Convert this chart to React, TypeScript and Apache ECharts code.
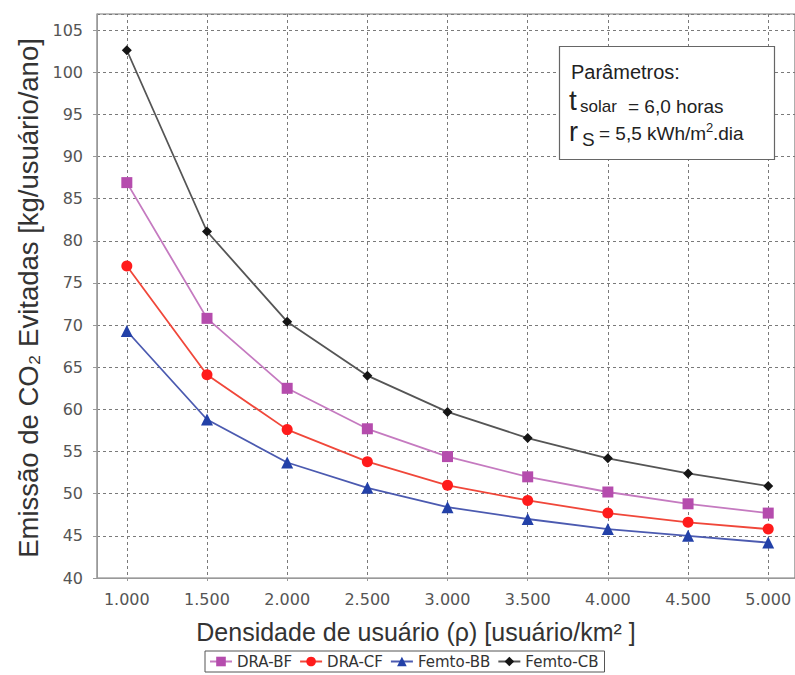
import React, { useEffect, useRef } from "react";
import * as echarts from "echarts";

// User density (users/km²)
const densities = [1000, 1500, 2000, 2500, 3000, 3500, 4000, 4500, 5000];

// Avoided CO2 emission (kg/user/year) per architecture
const draBF = [86.9, 70.8, 62.5, 57.7, 54.4, 52.0, 50.2, 48.8, 47.7];
const draCF = [77.0, 64.1, 57.6, 53.8, 51.0, 49.2, 47.7, 46.6, 45.8];
const femtoBB = [69.3, 58.8, 53.7, 50.7, 48.4, 47.0, 45.8, 45.0, 44.2];
const femtoCB = [102.6, 81.1, 70.4, 64.0, 59.7, 56.6, 54.2, 52.4, 50.9];

const seriesNames = ["DRA-BF", "DRA-CF", "Femto-BB", "Femto-CB"];
const xTicks = [1000, 1500, 2000, 2500, 3000, 3500, 4000, 4500, 5000];

const xTitle = "Densidade de usuário (ρ) [usuário/km² ]";
const yTitle = "Emissão de CO₂ Evitadas [kg/usuário/ano]";

const fmtThousands = (v: number) => {
  const k = Math.floor(v / 1000);
  const r = String(v % 1000).padStart(3, "0");
  return `${k}.${r}`;
};

const pairs = (vals: number[]) => densities.map((d, i) => [d, vals[i]]);

export default function App() {
  const ref = useRef<HTMLDivElement>(null);

  useEffect(() => {
    document.body.style.margin = "0";
    if (!ref.current) return;
    const chart = echarts.init(ref.current, null, { renderer: "svg" });

    const tickFont = "DejaVu Sans";
    const titleFont = "Liberation Sans";
    const ink = "#222";

    const mkSeries = (
      name: string,
      data: number[],
      lineColor: string,
      markColor: string,
      symbol: string,
      size: number
    ) => ({
      name,
      type: "line",
      data: pairs(data),
      symbol,
      symbolSize: size,
      lineStyle: { color: lineColor, width: 1.8 },
      itemStyle: { color: markColor },
      emphasis: { disabled: true },
    });

    const txt = (text: string, x: number, y: number, size: number, lineHeight?: number) => ({
      type: "text",
      x,
      y,
      z: 10,
      style: {
        text,
        fontFamily: titleFont,
        fontSize: size,
        lineHeight: lineHeight ?? size,
        fill: ink,
        verticalAlign: "middle",
        align: "left",
      },
    });

    const gridLine = { show: true, lineStyle: { color: "#7a7a7a", type: [3, 3], width: 1 } };

    chart.setOption({
      animation: false,
      backgroundColor: "#ffffff",
      grid: { left: 97, right: -6, top: 14, bottom: 97, show: true, borderColor: "#7a7a7a", borderWidth: 1.2 },
      legend: {
        data: seriesNames,
        left: 205,
        top: 651,
        itemWidth: 22,
        itemHeight: 12,
        itemGap: 7,
        padding: [3, 6, 3, 4],
        borderColor: "#555",
        borderWidth: 1,
        textStyle: { fontFamily: tickFont, fontSize: 15, color: "#333" },
      },
      xAxis: {
        type: "value",
        min: 814,
        max: 5167,
        axisLine: { show: true, lineStyle: { color: "#999" } },
        axisTick: { show: true, customValues: xTicks, length: 3, lineStyle: { color: "#999" } },
        axisLabel: {
          customValues: xTicks,
          formatter: (v: number) => fmtThousands(v),
          fontFamily: tickFont,
          fontSize: 16,
          color: "#555",
          margin: 13,
        },
        splitLine: gridLine,
      },
      yAxis: {
        type: "value",
        min: 40,
        max: 106.9,
        interval: 5,
        axisLine: { show: true, lineStyle: { color: "#999" } },
        axisTick: { show: true, length: 4, lineStyle: { color: "#999" } },
        axisLabel: {
          fontFamily: tickFont,
          fontSize: 16,
          color: "#555",
          margin: 14,
          showMaxLabel: false,
          formatter: (v: number) => (Number.isInteger(v) && v % 5 === 0 ? String(v) : ""),
        },
        splitLine: gridLine,
      },
      series: [
        mkSeries(seriesNames[3], femtoCB, "#555555", "#151515", "diamond", 10),
        mkSeries(seriesNames[0], draBF, "#c57ac0", "#b54cad", "rect", 11),
        mkSeries(seriesNames[1], draCF, "#f0473a", "#ff1b1b", "circle", 11),
        mkSeries(seriesNames[2], femtoBB, "#4b5ab0", "#2341a8", "triangle", 12),
      ],
      graphic: [
        // axis titles
        {
          type: "text",
          x: 416,
          y: 632,
          style: {
            text: xTitle,
            fontFamily: titleFont,
            fontSize: 25,
            fill: "#333",
            align: "center",
            verticalAlign: "middle",
          },
        },
        {
          type: "text",
          x: 28,
          y: 298,
          rotation: Math.PI / 2,
          style: {
            text: yTitle,
            fontFamily: titleFont,
            fontSize: 27.5,
            fill: "#333",
            align: "center",
            verticalAlign: "middle",
          },
        },
        // parameters box
        {
          type: "rect",
          z: 9,
          shape: { x: 559.5, y: 46.5, width: 215, height: 113 },
          style: { fill: "#ffffff", stroke: "#666", lineWidth: 1.2 },
        },
        txt("Parâmetros:", 571, 72, 20),
        txt("t", 569, 100.5, 28, 22),
        txt("solar", 580, 106, 17),
        txt("= 6,0 horas", 628, 106.5, 19),
        txt("r", 569, 131.5, 27, 22),
        txt("S", 582, 139.5, 19),
        txt("= 5,5 kWh/m", 599, 133.5, 19),
        txt("2", 706, 127.5, 13, 10),
        txt(".dia", 713, 133.5, 19),
      ],
    });

    return () => chart.dispose();
  }, []);

  return (
    <div
      ref={ref}
      style={{ position: "absolute", left: 0, top: 0, width: 795, height: 675 }}
    />
  );
}
